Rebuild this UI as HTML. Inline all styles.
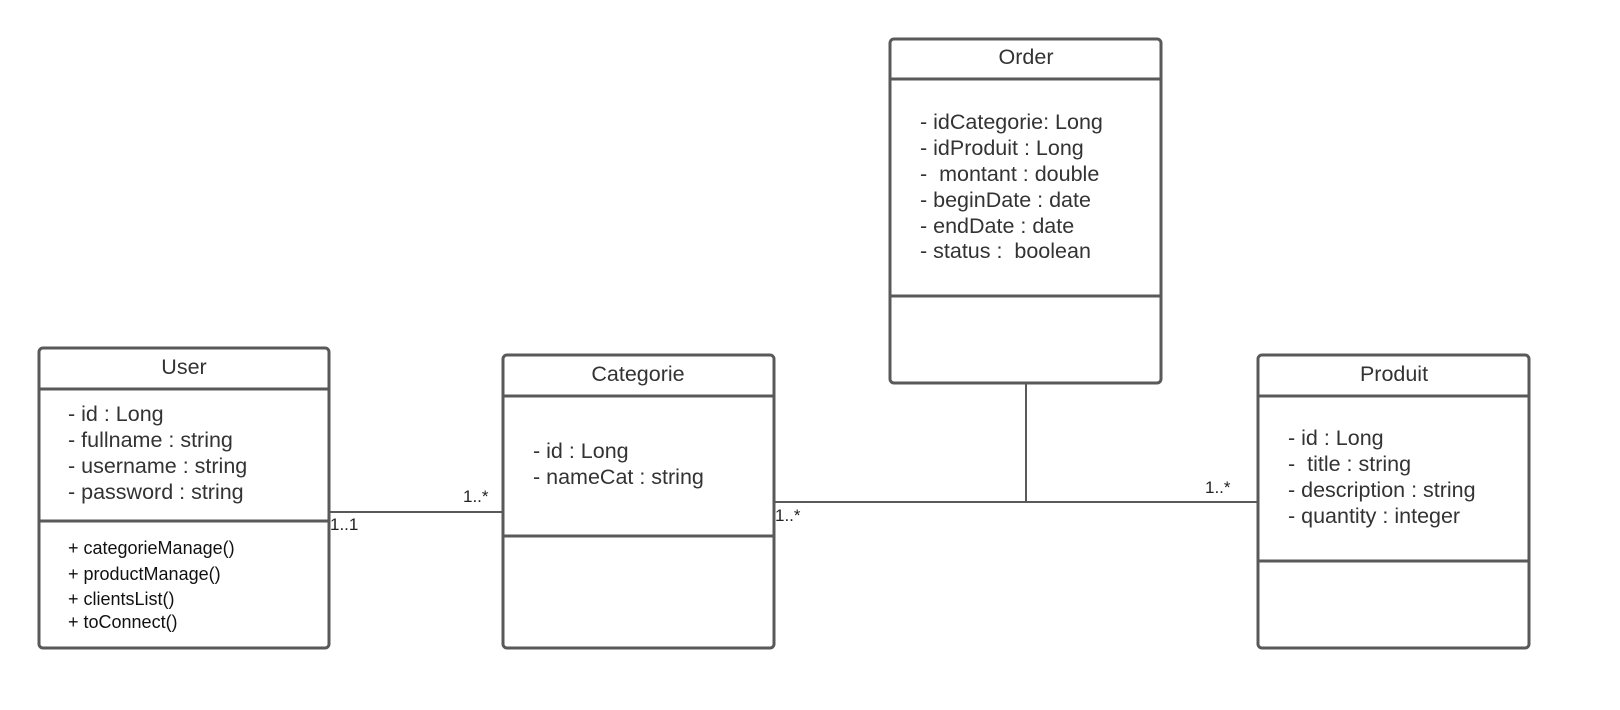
<!DOCTYPE html>
<html><head><meta charset="utf-8"><style>body{margin:0;background:#fff}svg{display:block}</style></head><body>
<svg width="1620" height="710" xmlns="http://www.w3.org/2000/svg" font-family="Liberation Sans, sans-serif">
<g fill="#fff" stroke="#595959" stroke-width="3">
<rect x="39" y="348" width="290" height="300" rx="4"/>
<line x1="39" y1="389" x2="329" y2="389"/><line x1="39" y1="521" x2="329" y2="521"/>
<rect x="503" y="355" width="271" height="293" rx="4"/>
<line x1="503" y1="396" x2="774" y2="396"/><line x1="503" y1="536" x2="774" y2="536"/>
<rect x="890" y="39" width="271" height="344" rx="4"/>
<line x1="890" y1="79" x2="1161" y2="79"/><line x1="890" y1="296" x2="1161" y2="296"/>
<rect x="1258" y="355" width="271" height="293" rx="4"/>
<line x1="1258" y1="396" x2="1529" y2="396"/><line x1="1258" y1="561" x2="1529" y2="561"/>
</g>
<g stroke="#595959" stroke-width="2" fill="none">
<line x1="330" y1="512" x2="502" y2="512"/>
<line x1="775" y1="502" x2="1257" y2="502"/>
<line x1="1026" y1="384" x2="1026" y2="502"/>
</g>
<g fill="#333" font-size="21.5">
<text x="184" y="374" text-anchor="middle">User</text>
<text x="638" y="381" text-anchor="middle">Categorie</text>
<text x="1026" y="64" text-anchor="middle">Order</text>
<text x="1394" y="381" text-anchor="middle">Produit</text>
<text x="68" y="421">- id : Long</text>
<text x="68" y="447">- fullname : string</text>
<text x="68" y="473">- username : string</text>
<text x="68" y="499">- password : string</text>
<text x="533" y="458">- id : Long</text>
<text x="533" y="484">- nameCat : string</text>
<text x="920" y="129">- idCategorie: Long</text>
<text x="920" y="155">- idProduit : Long</text>
<text x="920" y="181" xml:space="preserve">-  montant : double</text>
<text x="920" y="207">- beginDate : date</text>
<text x="920" y="233">- endDate : date</text>
<text x="920" y="258" xml:space="preserve">- status :  boolean</text>
<text x="1288" y="445">- id : Long</text>
<text x="1288" y="471" xml:space="preserve">-  title : string</text>
<text x="1288" y="497">- description : string</text>
<text x="1288" y="523">- quantity : integer</text>
</g>
<g fill="#111" font-size="18">
<text x="68" y="554">+ categorieManage()</text>
<text x="68" y="580">+ productManage()</text>
<text x="68" y="605">+ clientsList()</text>
<text x="68" y="628">+ toConnect()</text>
</g>
<g fill="#222" font-size="17">
<text x="330" y="530">1..1</text>
<text x="463" y="502">1..*</text>
<text x="775" y="521">1..*</text>
<text x="1205" y="493">1..*</text>
</g>
</svg>
</body></html>
